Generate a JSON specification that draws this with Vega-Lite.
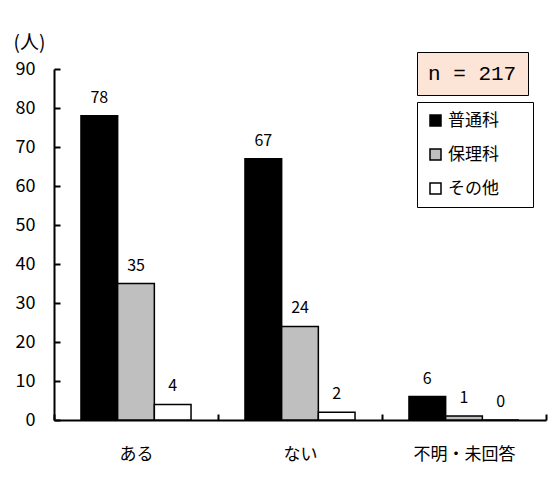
{
  "$schema": "https://vega.github.io/schema/vega-lite/v6.json",
  "width": 492,
  "height": 351,
  "autosize": {"type": "none"},
  "padding": {"left": 54, "top": 69, "right": 2, "bottom": 73},
  "background": "white",
  "config": {"view": {"stroke": null}},
  "data": {
    "values": [
      {"回答": "ある", "学科": "普通科", "人数": 78},
      {"回答": "ある", "学科": "保理科", "人数": 35},
      {"回答": "ある", "学科": "その他", "人数": 4},
      {"回答": "ない", "学科": "普通科", "人数": 67},
      {"回答": "ない", "学科": "保理科", "人数": 24},
      {"回答": "ない", "学科": "その他", "人数": 2},
      {"回答": "不明・未回答", "学科": "普通科", "人数": 6},
      {"回答": "不明・未回答", "学科": "保理科", "人数": 1},
      {"回答": "不明・未回答", "学科": "その他", "人数": 0}
    ]
  },
  "encoding": {
    "x": {
      "field": "回答",
      "type": "nominal",
      "sort": ["ある", "ない", "不明・未回答"],
      "scale": {"paddingInner": 0, "paddingOuter": 0},
      "axis": {
        "title": null,
        "labelAngle": 0,
        "labelFont": "Noto Sans CJK JP",
        "labelFontSize": 17,
        "labelColor": "black",
        "labelPadding": 32,
        "domainColor": "black",
        "domainWidth": 2,
        "ticks": true,
        "tickColor": "black",
        "tickWidth": 2,
        "tickSize": -6,
        "tickBand": "extent"
      }
    },
    "xOffset": {
      "field": "学科",
      "type": "nominal",
      "sort": ["普通科", "保理科", "その他"],
      "scale": {"paddingInner": 0, "paddingOuter": 0.735}
    },
    "y": {
      "field": "人数",
      "type": "quantitative",
      "scale": {"domain": [0, 90], "nice": false},
      "axis": {
        "title": "(人)",
        "titleAngle": 0,
        "titleAlign": "left",
        "titleBaseline": "middle",
        "titleX": -41,
        "titleY": -27,
        "titleFont": "Noto Sans CJK JP",
        "titleFontSize": 19,
        "titleFontWeight": "normal",
        "titleColor": "black",
        "values": [0, 10, 20, 30, 40, 50, 60, 70, 80, 90],
        "grid": false,
        "labelFont": "Noto Sans CJK JP",
        "labelFontSize": 18,
        "labelColor": "black",
        "labelPadding": 25,
        "domainColor": "black",
        "domainWidth": 2,
        "ticks": true,
        "tickColor": "black",
        "tickWidth": 2,
        "tickSize": -6
      }
    }
  },
  "layer": [
    {
      "mark": {"type": "bar", "stroke": "black", "strokeWidth": 1.5},
      "encoding": {
        "fill": {
          "field": "学科",
          "type": "nominal",
          "sort": ["普通科", "保理科", "その他"],
          "scale": {"domain": ["普通科", "保理科", "その他"], "range": ["#000000", "#bfbfbf", "#ffffff"]},
          "legend": {
            "title": null,
            "orient": "none",
            "legendX": 363,
            "legendY": 33,
            "symbolType": "square",
            "symbolSize": 121,
            "symbolStrokeColor": "black",
            "symbolStrokeWidth": 1.5,
            "labelFont": "Noto Sans CJK JP",
            "labelFontSize": 17,
            "labelColor": "black",
            "labelExpr": "datum.label + '\u2800\u2800'",
            "rowPadding": 16,
            "padding": 10,
            "strokeColor": "black",
            "fillColor": "white"
          }
        }
      }
    },
    {
      "mark": {"type": "text", "dy": -10, "baseline": "bottom", "font": "Noto Sans CJK JP", "fontSize": 16, "color": "black"},
      "encoding": {
        "text": {"field": "人数", "type": "quantitative"}
      }
    },
    {
      "data": {"values": [{"n": "n = 217"}]},
      "mark": {"type": "point", "opacity": 0},
      "encoding": {
        "x": null,
        "xOffset": null,
        "y": null,
        "shape": {
          "field": "n",
          "type": "nominal",
          "legend": {
            "title": "n = 217",
            "values": [],
            "orient": "none",
            "legendX": 363,
            "legendY": -17,
            "titleFont": "Liberation Mono",
            "titleFontSize": 21,
            "titleFontWeight": "normal",
            "titleColor": "black",
            "titlePadding": 0,
            "padding": 11,
            "strokeColor": "black",
            "fillColor": "#fce4d6"
          }
        }
      }
    }
  ]
}
